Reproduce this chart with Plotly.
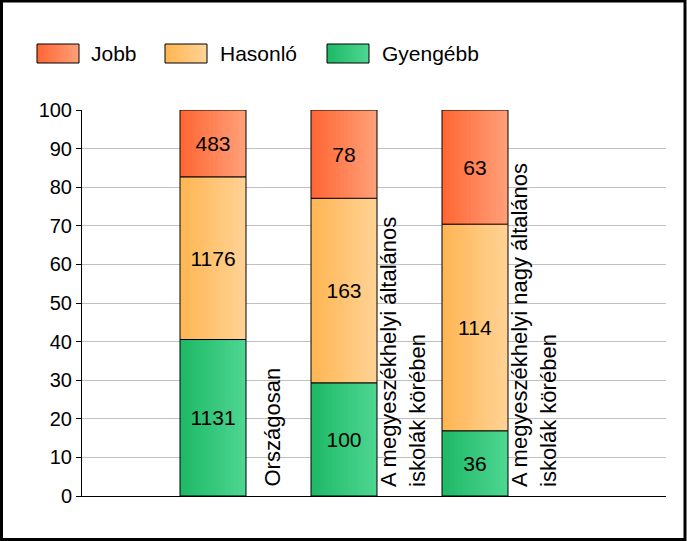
import plotly.graph_objects as go

# ---- data ----
category_labels = [
    "Országosan",
    "A megyeszékhelyi általános<br>iskolák körében",
    "A megyeszékhelyi nagy általános<br>iskolák körében",
]
gyengebb = [1131, 100, 36]
hasonlo = [1176, 163, 114]
jobb = [483, 78, 63]
series_names = ["Gyengébb", "Hasonló", "Jobb"]
legend_order = ["Jobb", "Hasonló", "Gyengébb"]
y_ticks = list(range(0, 101, 10))

# ---- style ----
FONT = "Liberation Sans, Arial, sans-serif"
grad = {
    "Jobb": ("#FF6633", "#FFA07A"),
    "Hasonló": ("#FFB552", "#FFD396"),
    "Gyengébb": ("#1DB866", "#4FD792"),
}
WIDTH, HEIGHT = 687, 541
L, R, T, B = 82, 21, 110, 45
PW, PH = WIDTH - L - R, HEIGHT - T - B
UNIT = 131.0
BW = 66 / UNIT
N = 16


def hex2rgb(h):
    h = h.lstrip("#")
    return [int(h[i:i + 2], 16) for i in (0, 2, 4)]


def interp(c0, c1, t):
    a, b = hex2rgb(c0), hex2rgb(c1)
    return "rgb(%d,%d,%d)" % tuple(round(a[i] + (b[i] - a[i]) * t) for i in range(3))


def pxx(p):
    return (p - L) / PW


def pxy(p):
    return (HEIGHT - B - p) / PH


xs = [1, 2, 3]
totals = [a + b + c for a, b, c in zip(gyengebb, hasonlo, jobb)]
values = {"Gyengébb": gyengebb, "Hasonló": hasonlo, "Jobb": jobb}

fig = go.Figure()
base = [0.0] * 3
for name in series_names:
    vals = values[name]
    pct = [v / t * 100 for v, t in zip(vals, totals)]
    c0, c1 = grad[name]
    for k in range(N):
        fig.add_bar(
            x=xs, y=pct, base=base,
            width=BW - k * BW / N, offset=-BW / 2 + k * BW / N,
            marker=dict(color=interp(c0, c1, (k + 0.5) / N), line=dict(width=0)),
            showlegend=False, hoverinfo="skip",
        )
    fig.add_bar(
        x=xs, y=pct, base=base, width=BW, offset=-BW / 2,
        marker=dict(color="rgba(0,0,0,0)", line=dict(color="black", width=1)),
        text=[str(v) for v in vals], textposition="inside",
        insidetextanchor="middle", textangle=0,
        textfont=dict(family=FONT, size=21, color="black"),
        name=name, showlegend=False,
    )
    base = [b + p for b, p in zip(base, pct)]

shapes = []
annotations = []

# category labels (rotated)
for xv, lab in zip(xs, category_labels):
    annotations.append(dict(
        x=xv + BW / 2, y=0, xref="x", yref="y", text=lab, showarrow=False,
        textangle=-90, xanchor="center", yanchor="bottom", align="left",
        xshift=26, yshift=7, font=dict(family=FONT, size=22, color="black"),
    ))

# custom legend
legend_pos = [(37, 89), (165, 218), (327, 380)]
for name, (bx, tx) in zip(legend_order, legend_pos):
    c0, c1 = grad[name]
    w = 42
    for k in range(N):
        shapes.append(dict(
            type="rect", xref="paper", yref="paper",
            x0=pxx(bx + k * w / N), x1=pxx(bx + w), y0=pxy(63), y1=pxy(44),
            fillcolor=interp(c0, c1, (k + 0.5) / N), line=dict(width=0), layer="above",
        ))
    shapes.append(dict(
        type="rect", xref="paper", yref="paper",
        x0=pxx(bx), x1=pxx(bx + w), y0=pxy(63), y1=pxy(44),
        fillcolor="rgba(0,0,0,0)", line=dict(color="black", width=1), layer="above",
    ))
    annotations.append(dict(
        x=pxx(tx), y=pxy(53.5), xref="paper", yref="paper", text=name,
        showarrow=False, xanchor="left", yanchor="middle",
        font=dict(family=FONT, size=21, color="black"),
    ))

# outer frame
shapes.append(dict(
    type="rect", xref="paper", yref="paper",
    x0=pxx(1.5), x1=pxx(685), y0=pxy(539.5), y1=pxy(1),
    line=dict(color="black", width=3), fillcolor="rgba(0,0,0,0)", layer="above",
))

fig.update_layout(
    width=WIDTH, height=HEIGHT,
    margin=dict(l=L, r=R, t=T, b=B, pad=0),
    barmode="overlay",
    paper_bgcolor="white", plot_bgcolor="white",
    font=dict(family=FONT, size=20, color="black"),
    showlegend=False,
    shapes=shapes, annotations=annotations,
    xaxis=dict(range=[0, PW / UNIT], showticklabels=False, ticks="",
               showgrid=False, zeroline=False, showline=True,
               linecolor="black", linewidth=1, fixedrange=True),
    yaxis=dict(range=[0, 100], tickvals=y_ticks, ticks="outside", ticklen=5,
               tickcolor="black", showgrid=True, gridcolor="#C0C0C0",
               gridwidth=1, zeroline=False, showline=True, linecolor="black",
               linewidth=1, tickfont=dict(family=FONT, size=20, color="black"),
               fixedrange=True),
)

fig.write_html(
    "out.html",
    config={"displayModeBar": False},
    post_script="document.body.style.margin='0';document.body.style.overflow='hidden';",
)
